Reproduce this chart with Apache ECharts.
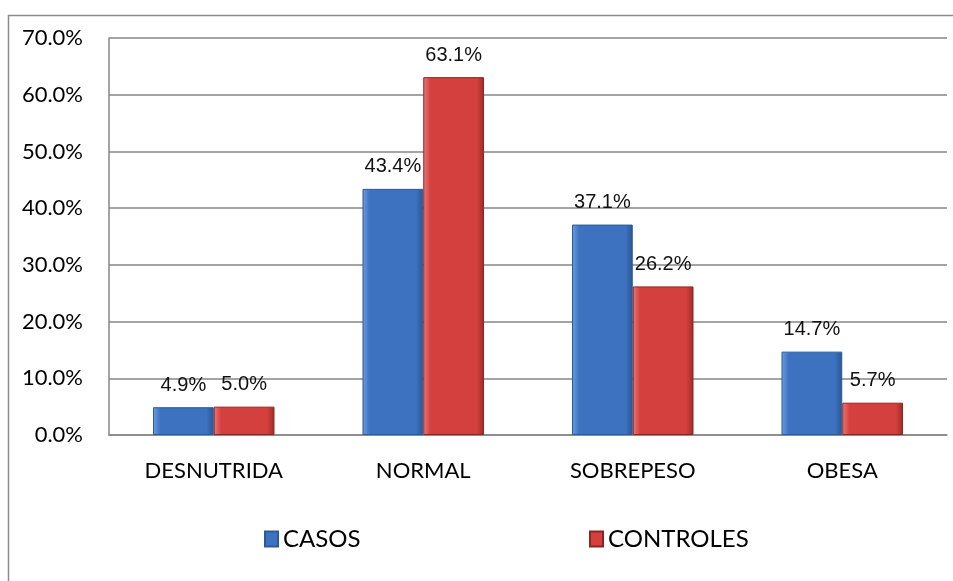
<!DOCTYPE html>
<html>
<head>
<meta charset="utf-8">
<script src="https://cdn.jsdelivr.net/npm/echarts@6/dist/echarts.min.js"></script>
<style>
    html, body { margin: 0; padding: 0; background: #fff; }
    #chart { width: 953px; height: 581px; }
</style>
</head>
<body>
<div id="chart"></div>
<script>
    // categorias y porcentajes
    var categories = ['DESNUTRIDA', 'NORMAL', 'SOBREPESO', 'OBESA'];
    var casos = [4.9, 43.4, 37.1, 14.7];
    var controles = [5.0, 63.1, 26.2, 5.7];
    var yTicks = [0, 10, 20, 30, 40, 50, 60, 70];

    function bevel(light, mid, dark) {
        return new echarts.graphic.LinearGradient(0, 0, 1, 0, [
            {offset: 0, color: light},
            {offset: 0.12, color: mid},
            {offset: 0.88, color: mid},
            {offset: 1, color: dark}
        ]);
    }

    var myChart = echarts.init(document.getElementById('chart'));
    var labelStyle = {
        show: true,
        position: 'top',
        distance: 12,
        fontFamily: 'Liberation Sans Narrow, Liberation Sans, Arial',
        fontSize: 20,
        color: '#111',
        formatter: function (p) { return p.value.toFixed(1) + '%'; }
    };
    var legendText = {fontFamily: 'Lato, Noto Sans', fontSize: 24, color: '#000'};

    var option = {
        animation: false,
        graphic: [{
            type: 'rect',
            shape: {x: 8.5, y: 15.5, width: 960, height: 600},
            style: {fill: 'none', stroke: '#8c8c8c', lineWidth: 1.5},
            silent: true
        }],
        grid: {left: 109, right: 6, top: 38, bottom: 146},
        legend: [{
            top: 522,
            left: 259,
            icon: 'rect',
            itemWidth: 13,
            itemHeight: 15,
            textStyle: legendText,
            data: ['CASOS']
        }, {
            top: 522,
            left: 584,
            icon: 'rect',
            itemWidth: 13,
            itemHeight: 15,
            textStyle: legendText,
            data: ['CONTROLES']
        }],
        xAxis: {
            type: 'category',
            data: categories,
            axisTick: {show: false},
            axisLine: {lineStyle: {color: '#868686', width: 1.5}},
            axisLabel: {margin: 25, fontFamily: 'Lato, Noto Sans', fontSize: 22, color: '#000'}
        },
        yAxis: {
            type: 'value',
            min: yTicks[0],
            max: yTicks[yTicks.length - 1],
            interval: 10,
            axisLine: {show: true, lineStyle: {color: '#868686', width: 1.5}},
            axisTick: {show: false},
            splitLine: {lineStyle: {color: '#868686', width: 1.5}},
            axisLabel: {
                margin: 26,
                fontFamily: 'Lato, Noto Sans',
                fontSize: 22,
                color: '#000',
                formatter: function (v) { return v.toFixed(1) + '%'; }
            }
        },
        series: [{
            name: 'CASOS',
            type: 'bar',
            data: casos,
            barGap: '0%',
            barCategoryGap: '42%',
            itemStyle: {
                color: bevel('#6f9de0', '#3c72c0', '#2a5592'),
                borderColor: '#2d5a9a',
                borderWidth: 1
            },
            label: labelStyle
        }, {
            name: 'CONTROLES',
            type: 'bar',
            data: controles,
            itemStyle: {
                color: bevel('#e87a78', '#d4403d', '#9e2a28'),
                borderColor: '#8e2524',
                borderWidth: 1
            },
            label: labelStyle
        }]
    };

    myChart.setOption(option);
</script>
</body>
</html>
